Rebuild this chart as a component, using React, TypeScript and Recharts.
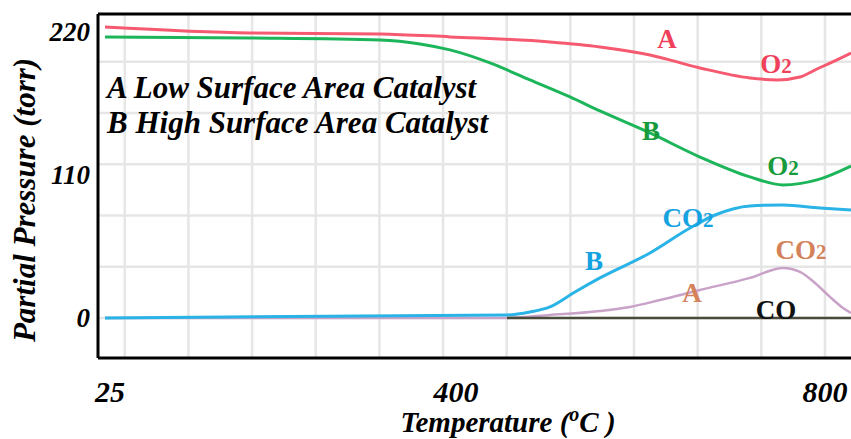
import React from 'react';
import { LineChart, Line, XAxis, YAxis, CartesianGrid, ReferenceLine, ReferenceDot } from 'recharts';

// axis setup (temperature in °C, pressure in torr)
const xDomain = [12, 828.2];
const yDomain = [-30.8, 233.8];
const xTicks = [25, 400, 800];
const yTicks = [0, 110, 220];
const gridX = [41, 110, 179, 248, 317, 386, 455, 524, 593, 662, 731, 800];
const gridY = [0, 39.4, 78.8, 118.2, 157.6, 197];

// A - O2 (low surface area)
const aO2Temp = [19.6, 176.7, 317.7, 393.5, 501.9, 556.1, 610.3, 664.5, 718.7, 748, 772.9, 791.3, 813, 828.2];
const aO2Pres = [223.8, 219.2, 218.5, 216.2, 212.3, 208.5, 202.3, 192.3, 184.6, 183.1, 185.4, 191.5, 198.5, 203.8];

// B - O2 (high surface area)
const bO2Temp = [19.6, 176.7, 317.7, 361, 393.5, 436.9, 480.2, 523.6, 556.1, 610.3, 664.5, 718.7, 754.5, 791.3, 828.2];
const bO2Pres = [216.2, 215.4, 213.8, 210.8, 206.2, 196.2, 183.1, 170, 159.2, 142.3, 123.8, 108.5, 102.3, 106.2, 116.9];

// B - CO2
const bCO2Temp = [19.6, 455.3, 480.2, 501.9, 529, 556.1, 610.3, 653.7, 680.8, 718.7, 754.5, 794.6, 828.2];
const bCO2Pres = [0, 2.3, 4.6, 8.5, 20, 30.8, 50, 69.2, 79.2, 86.2, 86.9, 84.6, 83.1];

// A - CO2
const aCO2Temp = [19.6, 447.7, 501.9, 556.1, 588.6, 621.2, 664.5, 718.7, 754.5, 772.9, 789.2, 805.4, 819.5, 828.2];
const aCO2Pres = [0, 0, 2.3, 5.4, 8.5, 13.8, 21.5, 30.8, 38.5, 35.4, 26.9, 16.2, 7.7, 3.8];

// CO
const coTemp = [455.3, 828.2];
const coPres = [0, 0];

// in-plot annotations
const notes = [
  { text: 'A', t: 628.8, p: 214.6, color: '#f0405a' },
  { text: 'O2', t: 746.9, p: 195.4, color: '#f0405a' },
  { text: 'B', t: 611.4, p: 143.8, color: '#179a3c' },
  { text: 'O2', t: 754.5, p: 116.9, color: '#179a3c' },
  { text: 'CO2', t: 651.5, p: 76.9, color: '#14a2e0' },
  { text: 'B', t: 549.6, p: 43.8, color: '#14a2e0' },
  { text: 'CO2', t: 774, p: 52.3, color: '#d4825a' },
  { text: 'A', t: 655.8, p: 19.2, color: '#d4825a' },
  { text: 'CO', t: 746.9, p: 6.2, color: '#111111' },
];

const legendLines = ['A Low Surface Area Catalyst', 'B High Surface Area Catalyst'];

const toRows = (temps: number[], pres: number[]) => temps.map((t, i) => ({ t, p: pres[i] }));

const serif = '"Liberation Serif", "Times New Roman", serif';

const YTick = (props: any) => (
  <text x={props.x} y={props.y + 9} textAnchor="end" fontFamily={serif} fontWeight="bold"
    fontStyle="italic" fontSize={27} fill="#000">
    {props.payload.value}
  </text>
);

const XTick = (props: any) => (
  <text x={props.x} y={props.y + 36} textAnchor="middle" fontFamily={serif} fontWeight="bold"
    fontStyle="italic" fontSize={30} fill="#000">
    {props.payload.value}
  </text>
);

const NoteShape = (note: { text: string; color: string }) => (props: any) => {
  const sub = note.text.endsWith('2');
  const main = sub ? note.text.slice(0, -1) : note.text;
  return (
    <text x={props.cx} y={props.cy + 9} textAnchor="middle" fontFamily={serif} fontWeight="bold"
      fontSize={27} fill={note.color}>
      {main}
      {sub && <tspan fontSize={21}>2</tspan>}
    </text>
  );
};

const series = [
  { key: 'aCO2', rows: toRows(aCO2Temp, aCO2Pres), color: '#c9a2c8', width: 2.5 },
  { key: 'bCO2', rows: toRows(bCO2Temp, bCO2Pres), color: '#2ab3e6', width: 3 },
  { key: 'co', rows: toRows(coTemp, coPres), color: '#4a4a3a', width: 2.5 },
  { key: 'bO2', rows: toRows(bO2Temp, bO2Pres), color: '#1db55a', width: 3 },
  { key: 'aO2', rows: toRows(aO2Temp, aO2Pres), color: '#f65a70', width: 3 },
];

export default function App() {
  return (
    <div style={{ position: 'absolute', left: 0, top: 0, width: 851, height: 439, overflow: 'hidden', background: '#fff' }}>
      <LineChart width={851} height={439} margin={{ top: 14, right: 0, left: 0, bottom: 0 }}>
        <CartesianGrid stroke="#e6e6e6" strokeWidth={2.5} horizontalValues={gridY} verticalValues={gridX} />
        <XAxis type="number" dataKey="t" domain={xDomain} ticks={xTicks} allowDataOverflow
          height={81} tickLine={false} axisLine={{ stroke: '#000', strokeWidth: 3 }} tick={XTick}
          label={{
            content: () => (
              <text x={508} y={432} textAnchor="middle" fontFamily={serif} fontWeight="bold"
                fontStyle="italic" fontSize={29} fill="#000">
                Temperature (<tspan dy={-11} fontSize={20}>o</tspan><tspan dy={11}>C )</tspan>
              </text>
            ),
          }} />
        <YAxis type="number" domain={yDomain} ticks={yTicks} allowDataOverflow width={98}
          tickLine={false} axisLine={{ stroke: '#000', strokeWidth: 3 }} tick={YTick}
          label={{
            content: () => (
              <text x={35} y={200} transform="rotate(-90 35 200)" textAnchor="middle" fontFamily={serif}
                fontWeight="bold" fontStyle="italic" fontSize={31} fill="#000">
                Partial Pressure (torr)
              </text>
            ),
          }} />
        <ReferenceLine y={yDomain[1]} stroke="#000" strokeWidth={3} />
        {series.map(s => (
          <Line key={s.key} data={s.rows} dataKey="p" type="monotone" stroke={s.color}
            strokeWidth={s.width} dot={false} activeDot={false} isAnimationActive={false} />
        ))}
        {notes.map((n, i) => (
          <ReferenceDot key={i} x={n.t} y={n.p} r={0} shape={NoteShape(n)} />
        ))}
      </LineChart>
      <div style={{ position: 'absolute', left: 107, top: 70, fontFamily: serif, fontWeight: 'bold',
        fontStyle: 'italic', fontSize: 31, lineHeight: '35px', color: '#000', whiteSpace: 'nowrap' }}>
        {legendLines.map(l => <div key={l}>{l}</div>)}
      </div>
    </div>
  );
}
